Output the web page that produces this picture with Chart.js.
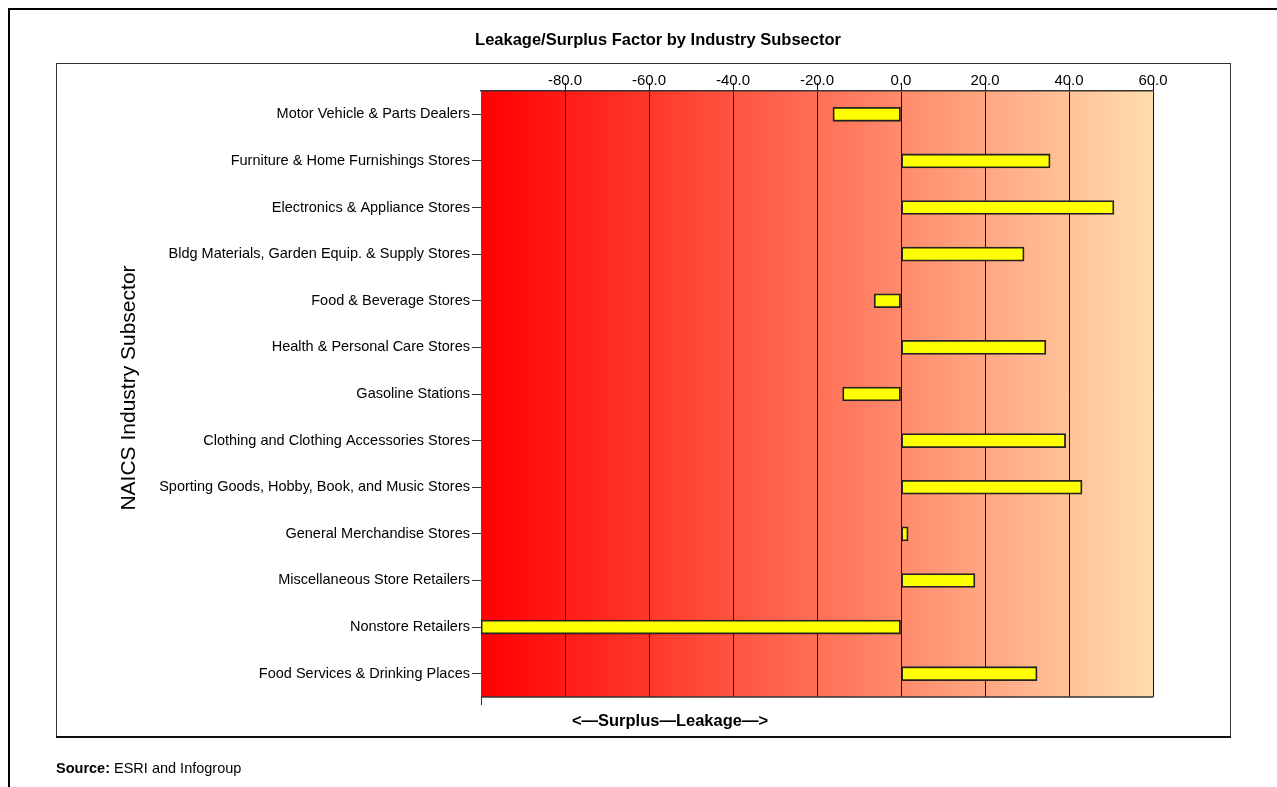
<!DOCTYPE html>
<html>
<head>
<meta charset="utf-8">
<script src="https://cdn.jsdelivr.net/npm/chart.js@4/dist/chart.umd.min.js"></script>
<style>
html,body{margin:0;padding:0;background:#fff;}
#wrap{position:relative;width:1277px;height:787px;}
</style>
</head>
<body>
<div id="wrap"><canvas id="c" width="1277" height="787"></canvas></div>
<script>
const categories = [
  "Motor Vehicle & Parts Dealers",
  "Furniture & Home Furnishings Stores",
  "Electronics & Appliance Stores",
  "Bldg Materials, Garden Equip. & Supply Stores",
  "Food & Beverage Stores",
  "Health & Personal Care Stores",
  "Gasoline Stations",
  "Clothing and Clothing Accessories Stores",
  "Sporting Goods, Hobby, Book, and Music Stores",
  "General Merchandise Stores",
  "Miscellaneous Store Retailers",
  "Nonstore Retailers",
  "Food Services & Drinking Places"
];
const factorValues = [-16.2, 35.5, 50.7, 29.3, -6.4, 34.5, -13.9, 39.2, 43.1, 1.7, 17.6, -100.0, 32.4];
const xMin = -100, xMax = 60, xStep = 20;
const chartTitle = "Leakage/Surplus Factor by Industry Subsector";
const yAxisTitle = "NAICS Industry Subsector";
const xAxisTitle = "<\u2014Surplus\u2014Leakage\u2014>";
const sourceBold = "Source:";
const sourceText = " ESRI and Infogroup";

const FONT = "'Liberation Sans', Arial, sans-serif";

const decor = {
  id: 'decor',
  beforeDraw(chart) {
    const ctx = chart.ctx;
    const a = chart.chartArea;
    ctx.save();
    ctx.fillStyle = '#fff';
    ctx.fillRect(0, 0, chart.width, chart.height);
    // outer page frame
    ctx.strokeStyle = '#000';
    ctx.lineWidth = 2;
    ctx.beginPath();
    ctx.moveTo(1277, 9); ctx.lineTo(9, 9); ctx.lineTo(9, 787);
    ctx.stroke();
    // inner box
    ctx.lineWidth = 1;
    ctx.strokeStyle = '#333';
    ctx.strokeRect(56.5, 63.5, 1174, 673);
    ctx.lineWidth = 2;
    ctx.strokeStyle = '#111';
    ctx.beginPath(); ctx.moveTo(56, 737); ctx.lineTo(1231, 737); ctx.stroke();
    // gradient background
    const g = ctx.createLinearGradient(a.left, 0, a.right, 0);
    g.addColorStop(0, '#FF0000');
    g.addColorStop(1, '#FFDEAD');
    ctx.fillStyle = g;
    ctx.fillRect(a.left, a.top, a.right - a.left, a.bottom - a.top);
    // title
    ctx.fillStyle = '#000';
    ctx.font = 'bold 16.5px ' + FONT;
    ctx.textAlign = 'center';
    ctx.textBaseline = 'middle';
    ctx.fillText(chartTitle, 658, 40);
    // y title
    ctx.save();
    ctx.translate(129, 388);
    ctx.rotate(-Math.PI / 2);
    ctx.font = '21px ' + FONT;
    ctx.fillText(yAxisTitle, 0, 0);
    ctx.restore();
    // x bottom title
    ctx.font = 'bold 16.5px ' + FONT;
    ctx.fillText(xAxisTitle, 670, 721);
    // source
    ctx.textAlign = 'left';
    ctx.font = 'bold 14.5px ' + FONT;
    ctx.fillText(sourceBold, 56, 769);
    const w = ctx.measureText(sourceBold).width;
    ctx.font = '14.5px ' + FONT;
    ctx.fillText(sourceText, 56 + w, 769);
    ctx.restore();
  },
  afterDraw(chart) {
    const ctx = chart.ctx;
    const a = chart.chartArea;
    ctx.save();
    ctx.strokeStyle = '#333';
    ctx.lineWidth = 1.5;
    ctx.beginPath();
    ctx.moveTo(a.left, a.bottom); ctx.lineTo(a.right, a.bottom);
    ctx.stroke();
    ctx.lineWidth = 1;
    ctx.beginPath();
    ctx.moveTo(a.left + 0.5, a.bottom); ctx.lineTo(a.left + 0.5, a.bottom + 8);
    ctx.stroke();
    ctx.restore();
  }
};

new Chart(document.getElementById('c'), {
  type: 'bar',
  data: {
    labels: categories,
    datasets: [{
      data: factorValues,
      backgroundColor: '#FFFF00',
      borderColor: '#222',
      borderWidth: 1.8,
      borderSkipped: false,
      barThickness: 14
    }]
  },
  options: {
    indexAxis: 'y',
    responsive: false,
    animation: false,
    devicePixelRatio: 1,
    layout: { padding: { left: 0, top: 0, right: 124, bottom: 90 } },
    plugins: { legend: { display: false }, tooltip: { enabled: false } },
    scales: {
      x: {
        position: 'top',
        min: xMin, max: xMax,
        ticks: {
          stepSize: xStep,
          color: '#000',
          font: { family: FONT, size: 15 },
          padding: -7,
          callback: v => v === xMin ? '' : Number(v).toFixed(1)
        },
        grid: {
          color: '#111',
          lineWidth: 1,
          tickLength: 8,
          tickColor: ctx => (ctx.tick && ctx.tick.value === xMin) ? 'rgba(0,0,0,0)' : '#111'
        },
        border: { display: true, color: '#333', width: 1.5 },
        afterFit: s => { s.height = 91; }
      },
      y: {
        ticks: {
          color: '#000',
          font: { family: FONT, size: 14.5 },
          padding: 2,
          autoSkip: false
        },
        grid: {
          offset: false,
          drawOnChartArea: false,
          tickLength: 9,
          color: '#333'
        },
        border: { display: true, color: '#555', width: 1 },
        afterFit: s => { s.width = 481; }
      }
    }
  },
  plugins: [decor]
});
</script>
</body>
</html>
